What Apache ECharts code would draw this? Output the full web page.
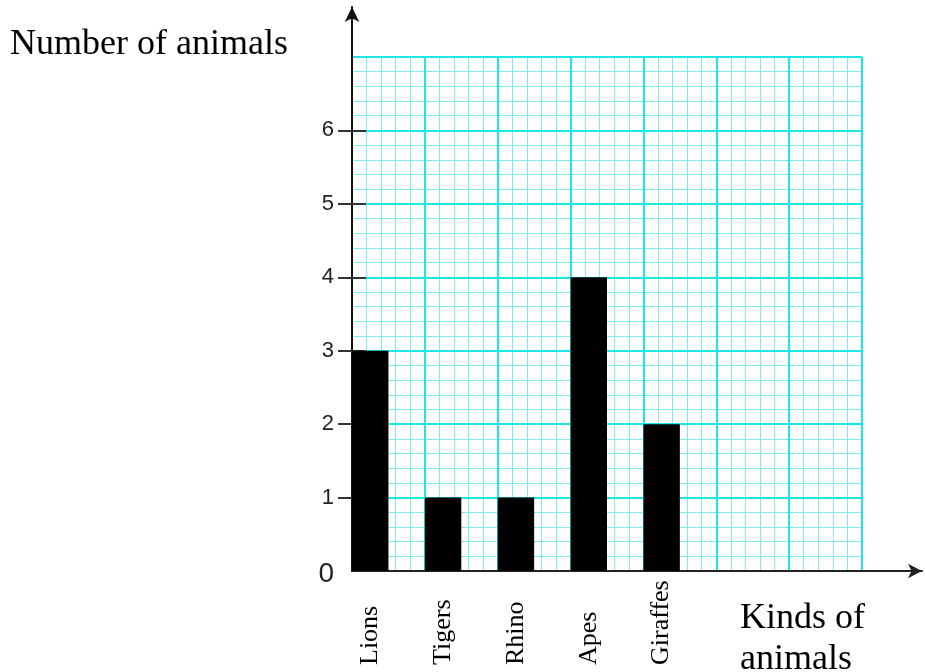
<!DOCTYPE html>
<html>
<head>
<meta charset="utf-8">
<script src="https://cdn.jsdelivr.net/npm/echarts@6/dist/echarts.min.js"></script>
<style>
html,body{margin:0;padding:0;background:#fff;}
#chart{width:925px;height:672px;}
</style>
</head>
<body>
<div id="chart"></div>
<script>
// ---- data ----
const categories = ['Lions', 'Tigers', 'Rhino', 'Apes', 'Giraffes', '', ''];
const animalCounts = [3, 1, 1, 4, 2];
const yTickValues = [1, 2, 3, 4, 5, 6];
const yLabelValues = [0, 1, 2, 3, 4, 5, 6];
const yAxisTitle = 'Number of animals';
const xAxisTitle = 'Kinds of\nanimals';

// labels centred under the bars (left half of each column)
const labelCats = [];
categories.forEach(c => { labelCats.push(c); labelCats.push(''); });

const MAJOR = '#1de6e6';
const MINOR = '#80eded';
const SERIF = '"Liberation Serif", "Times New Roman", serif';
const SANS = '"Liberation Sans", Arial, sans-serif';

function paperAxis(max, interval, color, width, z) {
  return {
    type: 'value', gridIndex: 0, min: 0, max: max, interval: interval, z: z,
    axisLine: {show: false}, axisTick: {show: false}, axisLabel: {show: false},
    splitLine: {show: true, showMinLine: true, showMaxLine: true, lineStyle: {color: color, width: width}}
  };
}

const chart = echarts.init(document.getElementById('chart'), null, {renderer: 'canvas'});
chart.setOption({
  animation: false,
  backgroundColor: '#fff',
  grid: [
    {left: 352, right: 63, top: 57, bottom: 101, containLabel: false, outerBoundsMode: 'none'},
    {left: 352, right: 3, top: 7, bottom: 101, containLabel: false, outerBoundsMode: 'none'}
  ],
  xAxis: [
    { // bars
      type: 'category', gridIndex: 0, data: categories, boundaryGap: true,
      axisLine: {show: false}, axisTick: {show: false}, axisLabel: {show: false},
      splitLine: {show: false}
    },
    paperAxis(categories.length, 0.2, MINOR, 1, 0),
    paperAxis(categories.length, 1, MAJOR, 2, 1),
    { // category labels
      type: 'category', gridIndex: 0, data: labelCats, boundaryGap: true, position: 'bottom',
      axisLine: {show: false}, axisTick: {show: false}, splitLine: {show: false},
      axisLabel: {
        show: true, interval: 0, rotate: 90, align: 'left', verticalAlign: 'middle',
        margin: 94, fontFamily: SERIF, fontSize: 26, color: '#000'
      }
    },
    { // x axis arrow
      type: 'value', gridIndex: 1, min: 0, max: 1, z: 3,
      axisLine: {show: true, onZero: false, symbol: ['none', 'arrow'], symbolSize: [11, 14],
        lineStyle: {color: '#222', width: 2}},
      axisTick: {show: false}, axisLabel: {show: false}, splitLine: {show: false},
      name: xAxisTitle, nameLocation: 'end', nameGap: -182,
      nameTextStyle: {fontFamily: SERIF, fontSize: 36, color: '#000', align: 'left',
        verticalAlign: 'top', lineHeight: 41, padding: [27, 0, 0, 0]}
    }
  ],
  yAxis: [
    { // ticks outside + labels
      type: 'value', gridIndex: 0, min: 0, max: 7, interval: 1, position: 'left', z: 3,
      axisLine: {show: false},
      axisTick: {show: true, inside: false, length: 14, customValues: yTickValues,
        lineStyle: {color: '#333', width: 2}},
      axisLabel: {
        show: true, margin: 18, customValues: yLabelValues, fontFamily: SANS, fontSize: 22, color: '#222',
        formatter: v => (v === 0 ? '{z|0}' : String(v)),
        rich: {z: {fontFamily: SANS, fontSize: 28, color: '#222', padding: [6, 0, 0, 0]}}
      },
      splitLine: {show: false}
    },
    { // ticks inside
      type: 'value', gridIndex: 0, min: 0, max: 7, interval: 1, position: 'left', z: 3,
      axisLine: {show: false},
      axisTick: {show: true, inside: true, length: 14, customValues: yTickValues,
        lineStyle: {color: '#333', width: 2}},
      axisLabel: {show: false}, splitLine: {show: false}
    },
    Object.assign(paperAxis(7, 0.2, MINOR, 1, 0), {position: 'left'}),
    Object.assign(paperAxis(7, 1, MAJOR, 2, 1), {position: 'left'}),
    { // y axis arrow
      type: 'value', gridIndex: 1, min: 0, max: 1, z: 3,
      axisLine: {show: true, onZero: false, symbol: ['none', 'arrow'], symbolSize: [11, 15],
        lineStyle: {color: '#111', width: 2}},
      axisTick: {show: false}, axisLabel: {show: false}, splitLine: {show: false},
      name: yAxisTitle, nameLocation: 'end', nameGap: -38,
      nameTextStyle: {fontFamily: SERIF, fontSize: 36, color: '#000', align: 'right',
        verticalAlign: 'middle', padding: [0, 64, 0, 0]}
    }
  ],
  series: [
    {
      name: 'Number of animals', type: 'bar', xAxisIndex: 0, yAxisIndex: 0,
      data: animalCounts, barGap: '0%', barCategoryGap: '0%',
      itemStyle: {color: '#000'}, z: 5
    },
    {
      name: 'spacer', type: 'bar', xAxisIndex: 0, yAxisIndex: 0,
      data: [], barGap: '0%', barCategoryGap: '0%'
    }
  ]
});
</script>
</body>
</html>
